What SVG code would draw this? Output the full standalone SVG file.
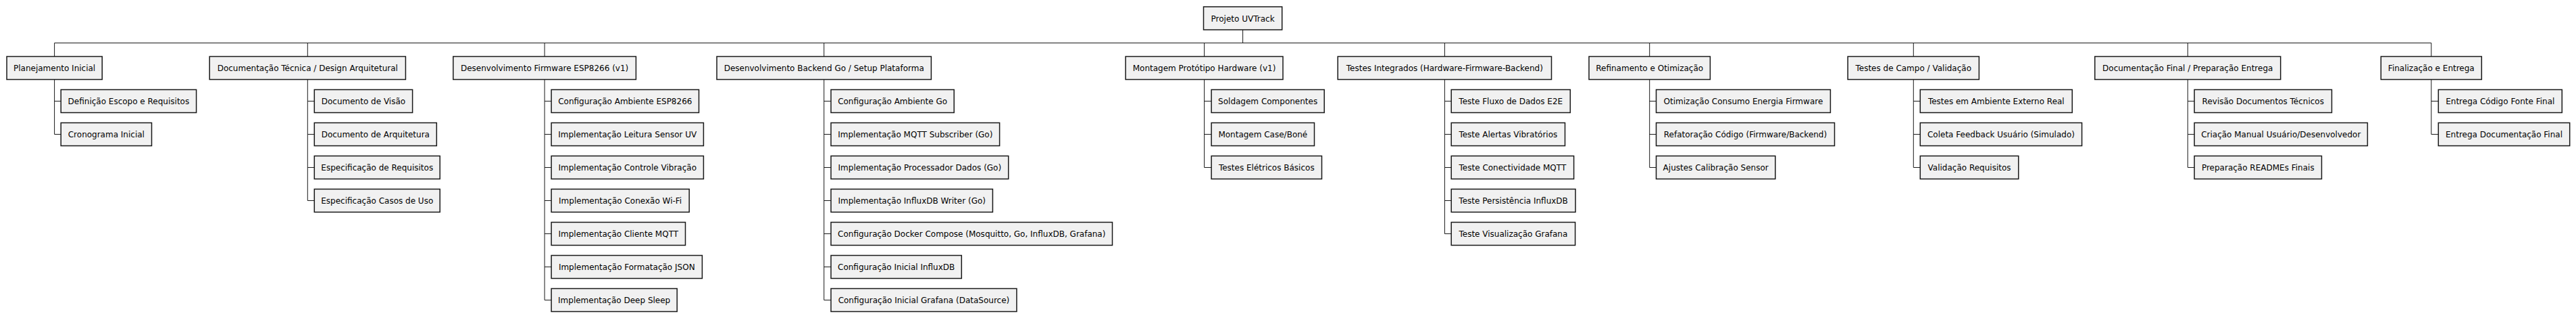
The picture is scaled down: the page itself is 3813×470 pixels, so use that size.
<svg xmlns="http://www.w3.org/2000/svg" width="3813" height="470" viewBox="0 0 3813 470">
<style>
rect{fill:#F1F1F1;stroke:#181818;stroke-width:1.5}
text{font-family:"DejaVu Sans","Liberation Sans",sans-serif;font-size:12px;fill:#000;text-anchor:middle}
.c path{fill:none;stroke:#181818;stroke-width:1}
</style>
<rect x="0" y="0" width="3813" height="470" style="fill:#fff;stroke:none"/>
<g class="c" id="connectors">
<path d="M1839.6 44 V63.5 M80.6 63.5 H3598.8 M80.6 63.5 V83.5 M455.3 63.5 V83.5 M806.1 63.5 V83.5 M1219.7 63.5 V83.5 M1782.6 63.5 V83.5 M2138.4 63.5 V83.5 M2441.7 63.5 V83.5 M2832.3 63.5 V83.5 M3238.3 63.5 V83.5 M3598.8 63.5 V83.5"/>
<path d="M80.6 117.5 V198.5 M80.6 149.5 H90.2 M80.6 198.5 H90.2"/>
<path d="M455.3 117.5 V296.5 M455.3 149.5 H465.3 M455.3 198.5 H465.3 M455.3 247.5 H465.3 M455.3 296.5 H465.3"/>
<path d="M806.1 117.5 V443.5 M806.1 149.5 H816.1 M806.1 198.5 H816.1 M806.1 247.5 H816.1 M806.1 296.5 H816.1 M806.1 345.5 H816.1 M806.1 394.5 H816.1 M806.1 443.5 H816.1"/>
<path d="M1219.7 117.5 V443.5 M1219.7 149.5 H1230 M1219.7 198.5 H1230 M1219.7 247.5 H1230 M1219.7 296.5 H1230 M1219.7 345.5 H1230 M1219.7 394.5 H1230 M1219.7 443.5 H1230"/>
<path d="M1782.6 117.5 V247.5 M1782.6 149.5 H1793.1 M1782.6 198.5 H1793.1 M1782.6 247.5 H1793.1"/>
<path d="M2138.4 117.5 V345.5 M2138.4 149.5 H2148.2 M2138.4 198.5 H2148.2 M2138.4 247.5 H2148.2 M2138.4 296.5 H2148.2 M2138.4 345.5 H2148.2"/>
<path d="M2441.7 117.5 V247.5 M2441.7 149.5 H2451.5 M2441.7 198.5 H2451.5 M2441.7 247.5 H2451.5"/>
<path d="M2832.3 117.5 V247.5 M2832.3 149.5 H2842.3 M2832.3 198.5 H2842.3 M2832.3 247.5 H2842.3"/>
<path d="M3238.3 117.5 V247.5 M3238.3 149.5 H3248.1 M3238.3 198.5 H3248.1 M3238.3 247.5 H3248.1"/>
<path d="M3598.8 117.5 V198.5 M3598.8 149.5 H3609.3 M3598.8 198.5 H3609.3"/>
</g>
<g id="root"><rect x="1781.5" y="10" width="116.2" height="34"/><text x="1839.6" y="31.5">Projeto UVTrack</text></g>

<g id="n1"><rect x="10" y="83.5" width="141.2" height="34"/><text x="80.6" y="105">Planejamento Inicial</text></g>
<g id="n1-1"><rect x="90.2" y="132.5" width="200.4" height="34"/><text x="190.4" y="154">Definição Escopo e Requisitos</text></g>
<g id="n1-2"><rect x="90.2" y="181.5" width="134.3" height="34"/><text x="157.35" y="203">Cronograma Inicial</text></g>

<g id="n2"><rect x="310.2" y="83.5" width="290.2" height="34"/><text x="455.3" y="105">Documentação Técnica / Design Arquitetural</text></g>
<g id="n2-1"><rect x="465.3" y="132.5" width="145.3" height="34"/><text x="537.95" y="154">Documento de Visão</text></g>
<g id="n2-2"><rect x="465.3" y="181.5" width="181" height="34"/><text x="555.8" y="203">Documento de Arquitetura</text></g>
<g id="n2-3"><rect x="465.3" y="230.5" width="185.9" height="34"/><text x="558.25" y="252">Especificação de Requisitos</text></g>
<g id="n2-4"><rect x="465.3" y="279.5" width="185.9" height="34"/><text x="558.25" y="301">Especificação Casos de Uso</text></g>

<g id="n3"><rect x="670.8" y="83.5" width="270.6" height="34"/><text x="806.1" y="105">Desenvolvimento Firmware ESP8266 (v1)</text></g>
<g id="n3-1"><rect x="816.1" y="132.5" width="218.4" height="34"/><text x="925.3" y="154">Configuração Ambiente ESP8266</text></g>
<g id="n3-2"><rect x="816.1" y="181.5" width="225.3" height="34"/><text x="928.75" y="203">Implementação Leitura Sensor UV</text></g>
<g id="n3-3"><rect x="816.1" y="230.5" width="225.3" height="34"/><text x="928.75" y="252">Implementação Controle Vibração</text></g>
<g id="n3-4"><rect x="816.1" y="279.5" width="204.1" height="34"/><text x="918.15" y="301">Implementação Conexão Wi-Fi</text></g>
<g id="n3-5"><rect x="816.1" y="328.5" width="198.4" height="34"/><text x="915.3" y="350">Implementação Cliente MQTT</text></g>
<g id="n3-6"><rect x="816.1" y="377.5" width="223.3" height="34"/><text x="927.75" y="399">Implementação Formatação JSON</text></g>
<g id="n3-7"><rect x="816.1" y="426.5" width="186.1" height="34"/><text x="909.15" y="448">Implementação Deep Sleep</text></g>

<g id="n4"><rect x="1061" y="83.5" width="317.4" height="34"/><text x="1219.7" y="105">Desenvolvimento Backend Go / Setup Plataforma</text></g>
<g id="n4-1"><rect x="1230" y="132.5" width="182.2" height="34"/><text x="1321.1" y="154">Configuração Ambiente Go</text></g>
<g id="n4-2"><rect x="1230" y="181.5" width="249.6" height="34"/><text x="1354.8" y="203">Implementação MQTT Subscriber (Go)</text></g>
<g id="n4-3"><rect x="1230" y="230.5" width="262.7" height="34"/><text x="1361.35" y="252">Implementação Processador Dados (Go)</text></g>
<g id="n4-4"><rect x="1230" y="279.5" width="239.4" height="34"/><text x="1349.7" y="301">Implementação InfluxDB Writer (Go)</text></g>
<g id="n4-5"><rect x="1230" y="328.5" width="416.5" height="34"/><text x="1438.25" y="350">Configuração Docker Compose (Mosquitto, Go, InfluxDB, Grafana)</text></g>
<g id="n4-6"><rect x="1230" y="377.5" width="193.3" height="34"/><text x="1326.65" y="399">Configuração Inicial InfluxDB</text></g>
<g id="n4-7"><rect x="1230" y="426.5" width="274.9" height="34"/><text x="1367.45" y="448">Configuração Inicial Grafana (DataSource)</text></g>

<g id="n5"><rect x="1666.1" y="83.5" width="232.9" height="34"/><text x="1782.55" y="105">Montagem Protótipo Hardware (v1)</text></g>
<g id="n5-1"><rect x="1793.1" y="132.5" width="167.1" height="34"/><text x="1876.65" y="154">Soldagem Componentes</text></g>
<g id="n5-2"><rect x="1793.1" y="181.5" width="152.4" height="34"/><text x="1869.3" y="203">Montagem Case/Boné</text></g>
<g id="n5-3"><rect x="1793.1" y="230.5" width="163.4" height="34"/><text x="1874.8" y="252">Testes Elétricos Básicos</text></g>

<g id="n6"><rect x="1980.2" y="83.5" width="316.3" height="34"/><text x="2138.35" y="105">Testes Integrados (Hardware-Firmware-Backend)</text></g>
<g id="n6-1"><rect x="2148.2" y="132.5" width="176.1" height="34"/><text x="2236.25" y="154">Teste Fluxo de Dados E2E</text></g>
<g id="n6-2"><rect x="2148.2" y="181.5" width="168.3" height="34"/><text x="2232.35" y="203">Teste Alertas Vibratórios</text></g>
<g id="n6-3"><rect x="2148.2" y="230.5" width="181.4" height="34"/><text x="2238.9" y="252">Teste Conectividade MQTT</text></g>
<g id="n6-4"><rect x="2148.2" y="279.5" width="183.8" height="34"/><text x="2240.1" y="301">Teste Persistência InfluxDB</text></g>
<g id="n6-5"><rect x="2148.2" y="328.5" width="183.4" height="34"/><text x="2239.9" y="350">Teste Visualização Grafana</text></g>

<g id="n7"><rect x="2352" y="83.5" width="179.4" height="34"/><text x="2441.7" y="105">Refinamento e Otimização</text></g>
<g id="n7-1"><rect x="2451.5" y="132.5" width="257.9" height="34"/><text x="2580.45" y="154">Otimização Consumo Energia Firmware</text></g>
<g id="n7-2"><rect x="2451.5" y="181.5" width="264" height="34"/><text x="2583.5" y="203">Refatoração Código (Firmware/Backend)</text></g>
<g id="n7-3"><rect x="2451.5" y="230.5" width="176.3" height="34"/><text x="2539.65" y="252">Ajustes Calibração Sensor</text></g>

<g id="n8"><rect x="2735.1" y="83.5" width="194.3" height="34"/><text x="2832.25" y="105">Testes de Campo / Validação</text></g>
<g id="n8-1"><rect x="2842.3" y="132.5" width="225" height="34"/><text x="2954.8" y="154">Testes em Ambiente Externo Real</text></g>
<g id="n8-2"><rect x="2842.3" y="181.5" width="239.3" height="34"/><text x="2961.95" y="203">Coleta Feedback Usuário (Simulado)</text></g>
<g id="n8-3"><rect x="2842.3" y="230.5" width="145.5" height="34"/><text x="2915.05" y="252">Validação Requisitos</text></g>

<g id="n9"><rect x="3100.8" y="83.5" width="274.9" height="34"/><text x="3238.25" y="105">Documentação Final / Preparação Entrega</text></g>
<g id="n9-1"><rect x="3248.1" y="132.5" width="203.4" height="34"/><text x="3349.8" y="154">Revisão Documentos Técnicos</text></g>
<g id="n9-2"><rect x="3248.1" y="181.5" width="256.3" height="34"/><text x="3376.25" y="203">Criação Manual Usuário/Desenvolvedor</text></g>
<g id="n9-3"><rect x="3248.1" y="230.5" width="188.4" height="34"/><text x="3342.3" y="252">Preparação READMEs Finais</text></g>

<g id="n10"><rect x="3524.3" y="83.5" width="149" height="34"/><text x="3598.8" y="105">Finalização e Entrega</text></g>
<g id="n10-1"><rect x="3609.3" y="132.5" width="183" height="34"/><text x="3700.8" y="154">Entrega Código Fonte Final</text></g>
<g id="n10-2"><rect x="3609.3" y="181.5" width="194.4" height="34"/><text x="3706.5" y="203">Entrega Documentação Final</text></g>
</svg>
